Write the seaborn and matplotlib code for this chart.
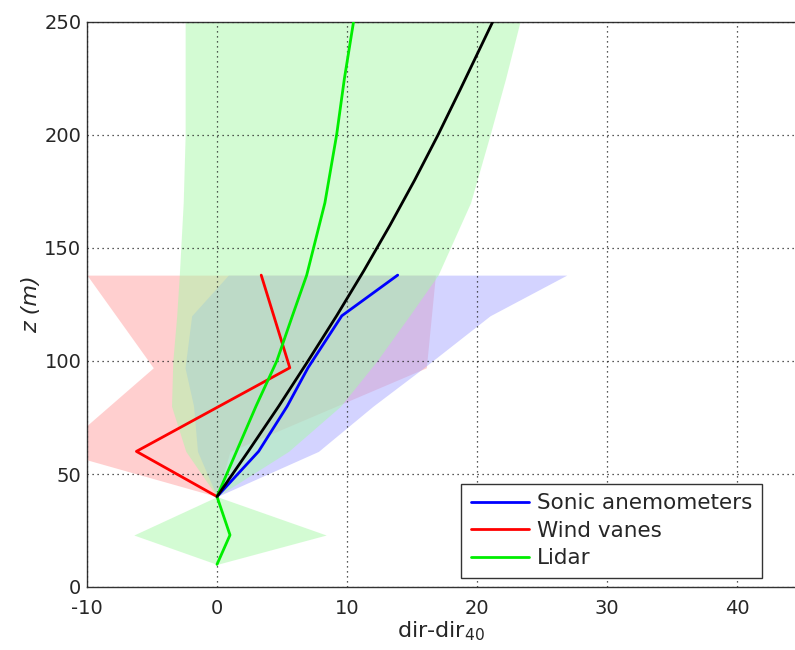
import numpy as np
import pandas as pd
import matplotlib
matplotlib.use("Agg")
import matplotlib.pyplot as plt
import seaborn as sns

# ---- data ----
sonic_z = [40, 60, 80, 97, 120, 138]
sonic_x = [0, 3.2, 5.4, 7.0, 9.6, 13.9]
sonic_lo = [0, -1.5, -1.8, -2.46, -1.95, 0.87]
sonic_hi = [0, 7.8, 12.0, 15.9, 21.0, 26.9]

vane_z = [40, 60, 97, 138]
vane_x = [0, -6.2, 5.6, 3.4]
vane_lo = [0, -12.3, -4.9, -10.0]
vane_hi = [0, 1.0, 16.1, 16.8]

lidar_z = [10, 23, 40, 60, 80, 100, 120, 138, 170, 200, 225, 250]
lidar_x = [0, 1.0, 0, 1.5, 3.0, 4.6, 5.8, 6.9, 8.3, 9.2, 9.8, 10.5]
lidar_lo = [0, -6.4, 0, -2.4, -3.5, -3.4, -3.1, -2.9, -2.6, -2.45, -2.45, -2.45]
lidar_hi = [0, 8.4, 0, 5.5, 9.5, 12.3, 14.8, 17.0, 19.5, 21.0, 22.2, 23.3]

fit_z = [40, 60, 80, 100, 120, 140, 160, 180, 200, 220, 250]
fit_x = [0, 2.4, 4.75, 7.0, 9.2, 11.3, 13.3, 15.2, 17.0, 18.7, 21.2]

labels = ["Sonic anemometers", "Wind vanes", "Lidar"]
xticks = [-10, 0, 10, 20, 30, 40]
yticks = [0, 50, 100, 150, 200, 250]

sns.set_style("white")
plt.rcParams['font.family'] = ['DejaVu Sans']

fig = plt.figure(figsize=(7.95, 6.5), dpi=100)
ax = fig.add_axes([87/795, 1-587/650, (795-87)/795, 565/650])

a = 0.5
ax.fill_betweenx(vane_z, vane_lo, vane_hi, color=(1.0, 0.63, 0.63), alpha=a, lw=0, zorder=1)
ax.fill_betweenx(sonic_z, sonic_lo, sonic_hi, color=(0.66, 0.66, 1.0), alpha=a, lw=0, zorder=1)
ax.fill_betweenx(lidar_z, lidar_lo, lidar_hi, color=(0.66, 0.975, 0.66), alpha=a, lw=0, zorder=1)

df_s = pd.DataFrame({"x": sonic_x, "z": sonic_z})
df_v = pd.DataFrame({"x": vane_x, "z": vane_z})
df_l = pd.DataFrame({"x": lidar_x, "z": lidar_z})
df_f = pd.DataFrame({"x": fit_x, "z": fit_z})

lw = 2.0
sns.lineplot(data=df_s, x="x", y="z", sort=False, estimator=None, orient="y",
             color="#0000ff", lw=lw, ax=ax, label=labels[0], zorder=3)
sns.lineplot(data=df_v, x="x", y="z", sort=False, estimator=None, orient="y",
             color="#ff0000", lw=lw, ax=ax, label=labels[1], zorder=3)
sns.lineplot(data=df_l, x="x", y="z", sort=False, estimator=None, orient="y",
             color="#00ee00", lw=lw, ax=ax, label=labels[2], zorder=3)
sns.lineplot(data=df_f, x="x", y="z", sort=False, estimator=None, orient="y",
             color="black", lw=lw, ax=ax, zorder=4)

ax.set_xlim(-10, 44.46)
ax.set_ylim(0, 250)
ax.set_xticks(xticks)
ax.set_yticks(yticks)
ax.set_xticklabels([str(t) for t in xticks])
ax.set_yticklabels([str(t) for t in yticks])
ax.grid(True, linestyle=(0, (1, 3)), color="#222222", linewidth=0.9)
ax.set_axisbelow(False)
for s in ["left", "bottom", "top"]:
    ax.spines[s].set_color("#333333")
    ax.spines[s].set_linewidth(1.0)
ax.spines["right"].set_visible(False)
ax.tick_params(axis="both", direction="in", length=4, labelsize=14, color="#333333")
ax.tick_params(axis="x", pad=9)
ax.tick_params(axis="y", pad=4)

ax.set_xlabel("dir-dir$_{40}$", fontsize=16, labelpad=1)
ax.set_ylabel("z (m)", fontsize=16, style="italic", labelpad=2)

leg = ax.legend(loc="lower left", bbox_to_anchor=(0.528, 0.016), fontsize=15.5,
                frameon=True, fancybox=False, framealpha=1, edgecolor="#333333",
                handlelength=2.7, borderpad=0.45, labelspacing=0.35, handletextpad=0.4,
                borderaxespad=0)
leg.get_frame().set_linewidth(1.0)

fig.savefig("out.png", dpi=100)
